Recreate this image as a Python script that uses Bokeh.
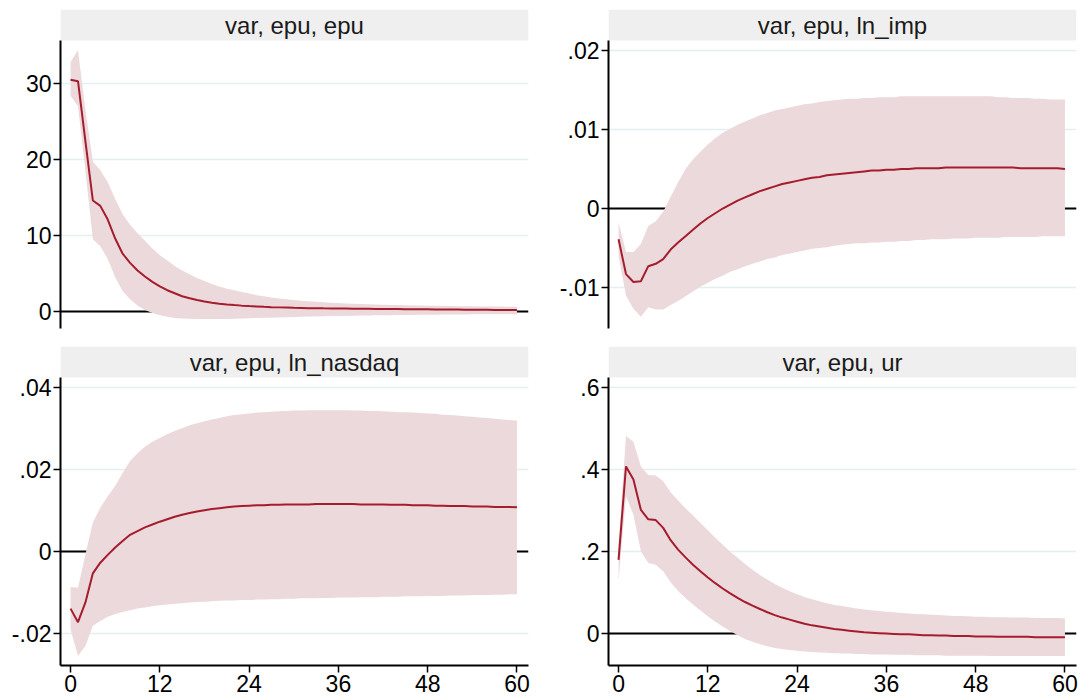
from bokeh.plotting import figure
from bokeh.layouts import gridplot
from bokeh.models import FixedTicker, Span
from bokeh.core.properties import value
from bokeh.embed import file_html
from bokeh.resources import INLINE

# ---------------- data ----------------
steps = list(range(61))
x_ticks = [0, 12, 24, 36, 48, 60]
titles = ["var, epu, epu", "var, epu, ln_imp", "var, epu, ln_nasdaq", "var, epu, ur"]

# var, epu, epu
irf_epu = [30.5, 30.3, 22.4, 14.6, 13.9, 12.1, 9.6, 7.6, 6.4, 5.4, 4.6, 3.9, 3.3, 2.8, 2.4, 2.0,
           1.75, 1.5, 1.3, 1.15, 1.02, 0.92, 0.84, 0.77, 0.71, 0.66, 0.61, 0.57, 0.54, 0.51, 0.48,
           0.46, 0.44, 0.43, 0.41, 0.40, 0.39, 0.38, 0.37, 0.36, 0.35, 0.34, 0.33, 0.32, 0.31, 0.30,
           0.29, 0.28, 0.28, 0.27, 0.26, 0.25, 0.25, 0.24, 0.23, 0.22, 0.22, 0.21, 0.20, 0.19, 0.19]
hi_epu = [32.8, 34.4, 26.5, 19.7, 18.6, 17.0, 14.8, 12.8, 11.4, 10.3, 9.3, 8.3, 7.4, 6.7, 6.0, 5.4,
          4.9, 4.4, 4.0, 3.6, 3.3, 3.0, 2.8, 2.55, 2.35, 2.15, 2.0, 1.85, 1.72, 1.6, 1.5,
          1.42, 1.35, 1.28, 1.22, 1.16, 1.1, 1.06, 1.02, 0.98, 0.95, 0.92, 0.89, 0.86, 0.84, 0.82,
          0.8, 0.78, 0.76, 0.74, 0.73, 0.71, 0.7, 0.69, 0.68, 0.67, 0.66, 0.65, 0.64, 0.63, 0.62]
lo_epu = [28.4, 27.0, 18.5, 9.5, 8.6, 6.9, 4.5, 2.7, 1.6, 0.8, 0.2, -0.2, -0.5, -0.7, -0.85, -0.93,
          -0.97, -1.0, -1.0, -1.0, -1.0, -0.98, -0.96, -0.93, -0.9, -0.87, -0.84, -0.81, -0.78, -0.75, -0.72,
          -0.7, -0.67, -0.65, -0.63, -0.61, -0.59, -0.57, -0.55, -0.54, -0.52, -0.51, -0.5, -0.48, -0.47, -0.46,
          -0.45, -0.44, -0.43, -0.42, -0.41, -0.4, -0.4, -0.39, -0.38, -0.38, -0.37, -0.36, -0.36, -0.35, -0.35]

# var, epu, ln_imp
irf_imp = [-0.0039, -0.0083, -0.0093, -0.0092, -0.0073, -0.0070, -0.0064, -0.0052, -0.0043, -0.0035, -0.0027,
           -0.0019, -0.0012, -0.0006, 0.0000, 0.0005, 0.0010, 0.0014, 0.0018, 0.0022, 0.0025,
           0.0028, 0.0031, 0.0033, 0.0035, 0.0037, 0.0039, 0.0040, 0.0042, 0.0043, 0.0044,
           0.0045, 0.0046, 0.0047, 0.0048, 0.0048, 0.0049, 0.0049, 0.0050, 0.0050, 0.0051,
           0.0051, 0.0051, 0.0051, 0.0052, 0.0052, 0.0052, 0.0052, 0.0052, 0.0052, 0.0052,
           0.0052, 0.0052, 0.0052, 0.0051, 0.0051, 0.0051, 0.0051, 0.0051, 0.0051, 0.0050]
hi_imp = [-0.0018, -0.0055, -0.0055, -0.0045, -0.0022, -0.0016, -0.0004, 0.0015, 0.0033, 0.0050, 0.0062,
          0.0072, 0.0081, 0.0089, 0.0096, 0.0101, 0.0106, 0.0110, 0.0114, 0.0118, 0.0121,
          0.0124, 0.0126, 0.0128, 0.0130, 0.0132, 0.0133, 0.0135, 0.0136, 0.0137, 0.0138,
          0.0139, 0.0139, 0.0140, 0.0140, 0.0141, 0.0141, 0.0141, 0.0142, 0.0142, 0.0142,
          0.0142, 0.0142, 0.0142, 0.0142, 0.0142, 0.0142, 0.0142, 0.0142, 0.0142, 0.0142,
          0.0141, 0.0141, 0.0140, 0.0140, 0.0140, 0.0139, 0.0139, 0.0138, 0.0138, 0.0138]
lo_imp = [-0.0060, -0.0110, -0.0127, -0.0137, -0.0125, -0.0128, -0.0128, -0.0122, -0.0117, -0.0111, -0.0105,
          -0.0099, -0.0094, -0.0089, -0.0085, -0.0080, -0.0077, -0.0073, -0.0070, -0.0067, -0.0064,
          -0.0062, -0.0059, -0.0057, -0.0055, -0.0053, -0.0051, -0.0050, -0.0049, -0.0047, -0.0046,
          -0.0045, -0.0044, -0.0044, -0.0043, -0.0043, -0.0042, -0.0042, -0.0041, -0.0041, -0.0040,
          -0.0040, -0.0039, -0.0039, -0.0039, -0.0038, -0.0038, -0.0038, -0.0037, -0.0037, -0.0037,
          -0.0037, -0.0036, -0.0036, -0.0036, -0.0036, -0.0036, -0.0035, -0.0035, -0.0035, -0.0035]

# var, epu, ln_nasdaq
irf_nas = [-0.0139, -0.0172, -0.0124, -0.0053, -0.0027, -0.0008, 0.0010, 0.0026, 0.0041, 0.0050, 0.0059,
           0.0066, 0.0073, 0.0079, 0.0085, 0.0090, 0.0094, 0.0098, 0.0101, 0.0104, 0.0106,
           0.0108, 0.0110, 0.0111, 0.0112, 0.0113, 0.0113, 0.0114, 0.0114, 0.0115, 0.0115,
           0.0115, 0.0115, 0.0116, 0.0116, 0.0116, 0.0116, 0.0116, 0.0116, 0.0115, 0.0115,
           0.0115, 0.0115, 0.0114, 0.0114, 0.0114, 0.0113, 0.0113, 0.0113, 0.0112, 0.0112,
           0.0111, 0.0111, 0.0111, 0.0110, 0.0110, 0.0110, 0.0109, 0.0109, 0.0109, 0.0108]
hi_nas = [-0.0086, -0.0088, -0.0007, 0.0071, 0.0107, 0.0135, 0.0160, 0.0192, 0.0221, 0.0240, 0.0256,
          0.0268, 0.0277, 0.0286, 0.0294, 0.0301, 0.0308, 0.0313, 0.0318, 0.0322, 0.0326,
          0.0330, 0.0333, 0.0335, 0.0337, 0.0339, 0.0340, 0.0341, 0.0342, 0.0343, 0.0344,
          0.0344, 0.0345, 0.0345, 0.0345, 0.0345, 0.0345, 0.0345, 0.0344, 0.0344, 0.0343,
          0.0343, 0.0342, 0.0341, 0.0340, 0.0340, 0.0339, 0.0338, 0.0337, 0.0336, 0.0334,
          0.0333, 0.0332, 0.0330, 0.0329, 0.0327, 0.0326, 0.0324, 0.0322, 0.0321, 0.0319]
lo_nas = [-0.0189, -0.0254, -0.0230, -0.0181, -0.0169, -0.0159, -0.0152, -0.0147, -0.0143, -0.0139, -0.0136,
          -0.0133, -0.0131, -0.0129, -0.0127, -0.0126, -0.0124, -0.0123, -0.0122, -0.0121, -0.0120,
          -0.0119, -0.0119, -0.0118, -0.0118, -0.0117, -0.0117, -0.0116, -0.0116, -0.0115, -0.0115,
          -0.0114, -0.0114, -0.0114, -0.0113, -0.0113, -0.0112, -0.0112, -0.0112, -0.0111, -0.0111,
          -0.0111, -0.0110, -0.0110, -0.0110, -0.0109, -0.0109, -0.0109, -0.0108, -0.0108, -0.0108,
          -0.0107, -0.0107, -0.0107, -0.0106, -0.0106, -0.0106, -0.0105, -0.0105, -0.0104, -0.0104]

# var, epu, ur
irf_ur = [0.180, 0.408, 0.376, 0.302, 0.279, 0.277, 0.258, 0.228, 0.205, 0.186, 0.168,
          0.152, 0.137, 0.123, 0.110, 0.098, 0.087, 0.077, 0.068, 0.060, 0.052,
          0.045, 0.039, 0.034, 0.029, 0.024, 0.020, 0.017, 0.014, 0.011, 0.009,
          0.007, 0.005, 0.003, 0.002, 0.001, 0.000, -0.001, -0.002, -0.002, -0.003,
          -0.004, -0.004, -0.005, -0.005, -0.006, -0.006, -0.006, -0.007, -0.007, -0.007,
          -0.008, -0.008, -0.008, -0.008, -0.008, -0.009, -0.009, -0.009, -0.009, -0.009]
hi_ur = [0.215, 0.482, 0.468, 0.408, 0.387, 0.386, 0.372, 0.345, 0.325, 0.306, 0.288,
         0.270, 0.252, 0.234, 0.217, 0.200, 0.185, 0.170, 0.156, 0.143, 0.132,
         0.121, 0.112, 0.103, 0.096, 0.089, 0.084, 0.079, 0.074, 0.070, 0.067,
         0.064, 0.061, 0.059, 0.057, 0.055, 0.053, 0.052, 0.050, 0.049, 0.048,
         0.047, 0.046, 0.045, 0.044, 0.043, 0.043, 0.042, 0.041, 0.041, 0.040,
         0.040, 0.040, 0.039, 0.039, 0.039, 0.038, 0.038, 0.038, 0.038, 0.037]
lo_ur = [0.128, 0.335, 0.290, 0.201, 0.172, 0.168, 0.152, 0.125, 0.104, 0.087, 0.071,
         0.056, 0.042, 0.029, 0.017, 0.006, -0.004, -0.013, -0.020, -0.026, -0.031,
         -0.035, -0.038, -0.040, -0.042, -0.044, -0.045, -0.046, -0.047, -0.048, -0.049,
         -0.049, -0.050, -0.050, -0.051, -0.051, -0.051, -0.052, -0.052, -0.052, -0.053,
         -0.053, -0.053, -0.053, -0.054, -0.054, -0.054, -0.054, -0.054, -0.054, -0.055,
         -0.055, -0.055, -0.055, -0.055, -0.055, -0.055, -0.055, -0.055, -0.055, -0.055]

y_ticks_epu = [0, 10, 20, 30]
y_labels_epu = ["0", "10", "20", "30"]
y_ticks_imp = [-0.01, 0, 0.01, 0.02]
y_labels_imp = ["-.01", "0", ".01", ".02"]
y_ticks_nas = [-0.02, 0, 0.02, 0.04]
y_labels_nas = ["-.02", "0", ".02", ".04"]
y_ticks_ur = [0, 0.2, 0.4, 0.6]
y_labels_ur = ["0", ".2", ".4", ".6"]

# ---------------- styling ----------------
FONT = "Liberation Sans"
LINE_COLOR = "#a51d2d"
BAND_COLOR = "#ecd9db"
GRID_COLOR = "#e4eff1"
TITLE_BG = "#efefef"
PLOT_H = 288      # px of plotting region
TITLE_H = 31      # px of title strip
X_RANGE = (-1.35, 61.55)

panels = [
    dict(title=titles[0], irf=irf_epu, lo=lo_epu, hi=hi_epu, ticks=y_ticks_epu, labels=y_labels_epu,
         yr=(-2.24, 35.66), w=540, h=340, bl=60, br=12, bt=9, bb=12, showx=False),
    dict(title=titles[1], irf=irf_imp, lo=lo_imp, hi=hi_imp, ticks=y_ticks_imp, labels=y_labels_imp,
         yr=(-0.01519, 0.02127), w=541, h=340, bl=68, br=5, bt=9, bb=12, showx=False),
    dict(title=titles[2], irf=irf_nas, lo=lo_nas, hi=hi_nas, ticks=y_ticks_nas, labels=y_labels_nas,
         yr=(-0.02777, 0.04246), w=540, h=360, bl=60, br=12, bt=6, bb=35, showx=True),
    dict(title=titles[3], irf=irf_ur, lo=lo_ur, hi=hi_ur, ticks=y_ticks_ur, labels=y_labels_ur,
         yr=(-0.0780, 0.6251), w=541, h=360, bl=68, br=5, bt=6, bb=35, showx=True),
]


def make_panel(d):
    ylo, yhi = d["yr"]
    ytop = yhi + (yhi - ylo) * TITLE_H / PLOT_H
    p = figure(width=d["w"], height=d["h"], x_range=X_RANGE, y_range=(ylo, ytop),
               output_backend="svg", toolbar_location=None,
               x_axis_location="below" if d["showx"] else None,
               min_border_left=d["bl"], min_border_right=d["br"],
               min_border_top=d["bt"], min_border_bottom=d["bb"])
    p.outline_line_color = None
    p.background_fill_color = "white"
    p.border_fill_color = "white"
    p.xgrid.visible = False
    p.ygrid.ticker = FixedTicker(ticks=d["ticks"])
    p.ygrid.grid_line_color = GRID_COLOR
    p.ygrid.grid_line_width = 1.5

    yax = p.yaxis[0]
    yax.ticker = FixedTicker(ticks=d["ticks"])
    yax.major_label_overrides = {t: l for t, l in zip(d["ticks"], d["labels"])}
    yax.bounds = (ylo, yhi)
    yax.axis_line_width = 2
    yax.axis_line_color = "black"
    yax.major_tick_line_width = 1.5
    yax.major_tick_line_color = "black"
    yax.major_tick_out = 7
    yax.major_tick_in = 0
    yax.minor_tick_line_color = None
    yax.major_label_standoff = 2
    yax.major_label_orientation = "horizontal"
    yax.major_label_text_font = FONT
    yax.major_label_text_font_size = "23px"
    yax.major_label_text_color = "black"

    if d["showx"]:
        xax = p.xaxis[0]
        xax.ticker = FixedTicker(ticks=x_ticks)
        xax.axis_line_width = 2
        xax.axis_line_color = "black"
        xax.major_tick_line_width = 1.5
        xax.major_tick_line_color = "black"
        xax.major_tick_out = 7
        xax.major_tick_in = 0
        xax.minor_tick_line_color = None
        xax.major_label_standoff = 2
        xax.major_label_text_font = FONT
        xax.major_label_text_font_size = "23px"
        xax.major_label_text_color = "black"

    zero = Span(location=0, dimension="width", line_color="black", line_width=2, level="underlay")
    p.add_layout(zero)

    p.varea(x=steps, y1=d["lo"], y2=d["hi"], fill_color=BAND_COLOR, fill_alpha=1.0)
    p.line(x=steps, y=d["irf"], line_color=LINE_COLOR, line_width=2)

    # title strip
    p.quad(left=[X_RANGE[0]], right=[X_RANGE[1]], bottom=[yhi], top=[ytop],
           fill_color=TITLE_BG, line_color=None)
    p.text(x=[(X_RANGE[0] + X_RANGE[1]) / 2], y=[(yhi + ytop) / 2], text=[d["title"]],
           text_align="center", text_baseline="middle", text_font=value(FONT),
           text_font_size="24px", text_color="#1a1a1a")
    return p


figs = [make_panel(d) for d in panels]
grid = gridplot([[figs[0], figs[1]], [figs[2], figs[3]]], toolbar_location=None)

open("out.html", "w").write(file_html(grid, INLINE))
